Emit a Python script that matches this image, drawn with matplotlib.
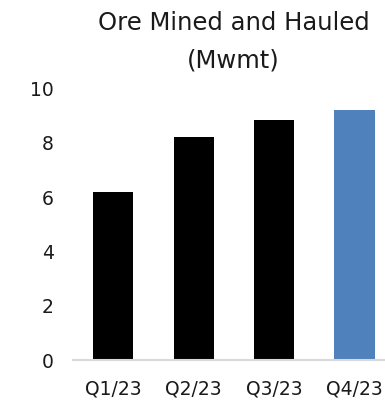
import matplotlib
matplotlib.use("Agg")
import matplotlib.pyplot as plt

# Quarterly ore mined and hauled, million wet metric tonnes
quarters = ["Q1/23", "Q2/23", "Q3/23", "Q4/23"]
ore_mwmt = [6.2, 8.2, 8.85, 9.2]
bar_colors = ["#000000", "#000000", "#000000", "#4f81bd"]

plt.rcParams['font.family'] = ['DejaVu Sans']

fig = plt.figure(figsize=(3.85, 4.01), dpi=100)
ax = fig.add_axes([0.19, 0.102, 0.81, 0.677])

x = range(len(quarters))
ax.bar(x, ore_mwmt, width=0.5, color=bar_colors, zorder=2)

ax.set_xlim(-0.5, 3.38)
ax.set_ylim(0, 10)
ax.set_yticks([0, 2, 4, 6, 8, 10])
ax.set_xticks(list(x))
ax.set_xticklabels(quarters)

for s in ["top", "right", "left"]:
    ax.spines[s].set_visible(False)
ax.spines["bottom"].set_color("#d9d9d9")
ax.spines["bottom"].set_linewidth(1.5)
ax.tick_params(axis="both", length=0, labelsize=13.5, colors="#1a1a1a")
ax.tick_params(axis="y", pad=14)
ax.tick_params(axis="x", pad=14)

fig.text(0.607, 0.942, "Ore Mined and Hauled", ha="center", va="center",
         fontsize=17.5, color="#1a1a1a")
fig.text(0.607, 0.85, "(Mwmt)", ha="center", va="center",
         fontsize=17.5, color="#1a1a1a")

fig.savefig("out.png", dpi=100)
